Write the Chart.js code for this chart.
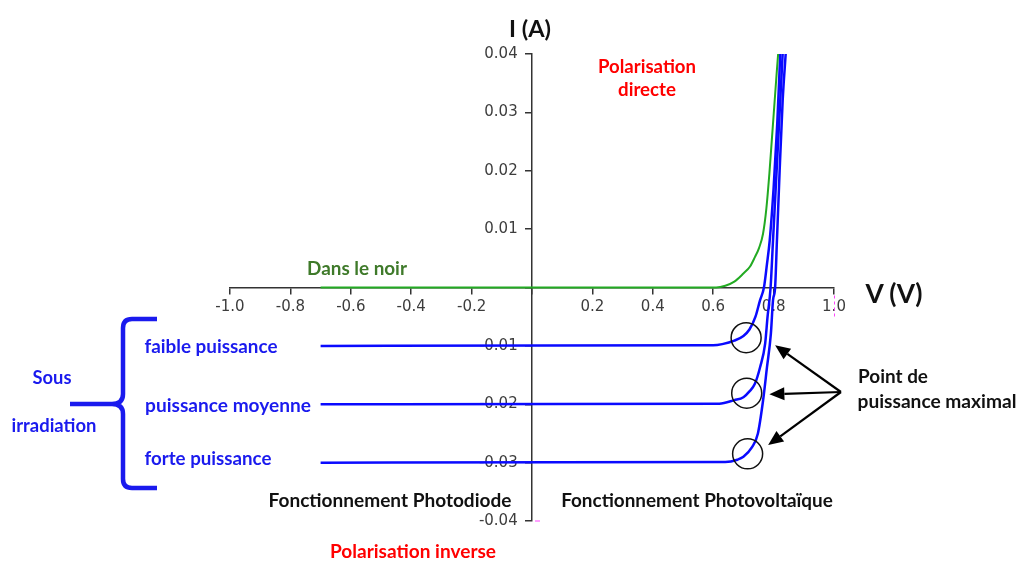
<!DOCTYPE html>
<html lang="fr">
<head>
<meta charset="utf-8">
<title>Caractéristique I(V) d'une photodiode</title>
<script src="https://cdn.jsdelivr.net/npm/chart.js@4.4.1/dist/chart.umd.min.js"></script>
<style>
  html, body { margin: 0; padding: 0; background: #fff; }
  #cadre { position: relative; width: 1019px; height: 561px; overflow: hidden; }
  #cadre canvas { position: absolute; left: 0; top: 0; }
  .lbl {
    position: absolute;
    font-family: Lato, "Open Sans", sans-serif;
    font-weight: 700;
    font-size: 16px;
    line-height: 1;
    white-space: nowrap;
    transform: translate(-50%, -50%);
  }
  .noir { color: #111; }
  .rouge { color: #ff0000; }
  .bleu { color: #1a1aee; }
  .vert { color: #3f7a2a; }
</style>
</head>
<body>
<div id="cadre">
  <canvas id="graphe" width="1019" height="561"></canvas>

  <div class="lbl noir" style="left:530px; top:29px; font-size:20px" data-w="42">I (A)</div>
  <div class="lbl rouge" style="left:647px; top:66px" data-w="98">Polarisation</div>
  <div class="lbl rouge" style="left:647px; top:89px" data-w="58">directe</div>
  <div class="lbl vert" style="left:357px; top:268px" data-w="100">Dans le noir</div>
  <div class="lbl noir" style="left:894px; top:293px; font-size:20px" data-w="57">V (V)</div>

  <div class="lbl bleu" style="left:211px; top:346px" data-w="133">faible puissance</div>
  <div class="lbl bleu" style="left:228px; top:405px" data-w="166">puissance moyenne</div>
  <div class="lbl bleu" style="left:208px; top:458px" data-w="127">forte puissance</div>
  <div class="lbl bleu" style="left:52px; top:377px" data-w="39">Sous</div>
  <div class="lbl bleu" style="left:54px; top:425px" data-w="85">irradiation</div>

  <div class="lbl noir" style="left:893px; top:376px" data-w="70">Point de</div>
  <div class="lbl noir" style="left:937px; top:401px" data-w="159">puissance maximal</div>

  <div class="lbl noir" style="left:390px; top:500px" data-w="243">Fonctionnement Photodiode</div>
  <div class="lbl noir" style="left:697px; top:500px" data-w="272">Fonctionnement Photovoltaïque</div>
  <div class="lbl rouge" style="left:413px; top:551px" data-w="166">Polarisation inverse</div>
</div>

<script>
// Graduations des axes
const ticksV = [-1.0, -0.8, -0.6, -0.4, -0.2, 0, 0.2, 0.4, 0.6, 0.8, 1.0];
const etiquettesV = ['-1.0', '-0.8', '-0.6', '-0.4', '-0.2', '', '0.2', '0.4', '0.6', '0.8', '1.0'];
const ticksI = [-0.04, -0.03, -0.02, -0.01, 0, 0.01, 0.02, 0.03, 0.04];
const etiquettesI = ['-0.04', '-0.03', '-0.02', '-0.01', '', '0.01', '0.02', '0.03', '0.04'];

// Dans le noir (courbe verte)
const noirV = [-0.7, 0.61, 0.64, 0.67, 0.70, 0.722, 0.738, 0.752, 0.765, 0.776, 0.786, 0.794, 0.802, 0.81, 0.815];
const noirI = [0, 0, 0.0003, 0.001, 0.0024, 0.0036, 0.0052, 0.0068, 0.0092, 0.0135, 0.0195, 0.0252, 0.0309, 0.0366, 0.04];

// Sous irradiation : faible puissance
const faibleV = [-0.7, 0.6, 0.63, 0.67, 0.70, 0.72, 0.74, 0.755, 0.768, 0.778, 0.787, 0.80, 0.812, 0.822];
const faibleI = [-0.01, -0.0099, -0.0097, -0.0091, -0.0083, -0.0072, -0.005, -0.0022, 0, 0.004, 0.008, 0.017, 0.028, 0.04];

// puissance moyenne
const moyenneV = [-0.7, 0.62, 0.67, 0.70, 0.72, 0.738, 0.755, 0.772, 0.78, 0.79, 0.798, 0.81, 0.822, 0.83];
const moyenneI = [-0.02, -0.0199, -0.0193, -0.0188, -0.0178, -0.0165, -0.0137, -0.0096, -0.005, 0, 0.008, 0.02, 0.032, 0.04];

// forte puissance
const forteV = [-0.7, 0.64, 0.68, 0.70, 0.728, 0.748, 0.765, 0.778, 0.791, 0.798, 0.805, 0.811, 0.82, 0.83, 0.84];
const forteI = [-0.03, -0.0299, -0.0295, -0.029, -0.0274, -0.025, -0.0194, -0.0137, -0.0079, -0.0022, 0, 0.008, 0.02, 0.032, 0.04];

// Points de puissance maximale (cercles)
const pmaxV = [0.709, 0.711, 0.714];
const pmaxI = [-0.0086, -0.0181, -0.0285];

function points(vs, is) {
    return vs.map((v, k) => ({ x: v, y: is[k] }));
}

// Flèches, accolade et petites marques roses
const decorations = {
    id: 'decorations',
    afterDraw(chart) {
        const { ctx, scales: { x, y } } = chart;
        ctx.save();

        // flèches vers les points de puissance maximale
        const x0 = x.getPixelForValue(1.023), y0 = y.getPixelForValue(-0.0179);
        const cibles = [[0.805, -0.0099], [0.786, -0.0183], [0.782, -0.0270]];
        ctx.strokeStyle = '#000';
        ctx.fillStyle = '#000';
        ctx.lineWidth = 2.2;
        cibles.forEach(([cv, ci]) => {
            const x1 = x.getPixelForValue(cv), y1 = y.getPixelForValue(ci);
            const a = Math.atan2(y1 - y0, x1 - x0);
            const L = 15, W = 6.5;
            const bx = x1 - L * Math.cos(a), by = y1 - L * Math.sin(a);
            ctx.beginPath();
            ctx.moveTo(x0, y0);
            ctx.lineTo(bx, by);
            ctx.stroke();
            ctx.beginPath();
            ctx.moveTo(x1, y1);
            ctx.lineTo(bx + W * Math.sin(a), by - W * Math.cos(a));
            ctx.lineTo(bx - W * Math.sin(a), by + W * Math.cos(a));
            ctx.closePath();
            ctx.fill();
        });

        // accolade bleue
        ctx.strokeStyle = '#1a1aee';
        ctx.lineWidth = 4.5;
        ctx.lineJoin = 'round';
        ctx.beginPath();
        ctx.moveTo(157, 319);
        ctx.lineTo(132, 319);
        ctx.quadraticCurveTo(123, 319, 123, 328);
        ctx.lineTo(123, 394);
        ctx.quadraticCurveTo(123, 404, 112, 404);
        ctx.lineTo(70, 404);
        ctx.moveTo(112, 404);
        ctx.quadraticCurveTo(123, 404, 123, 414);
        ctx.lineTo(123, 479);
        ctx.quadraticCurveTo(123, 488, 132, 488);
        ctx.lineTo(157, 488);
        ctx.stroke();

        // marques roses
        ctx.strokeStyle = '#ff44ff';
        ctx.lineWidth = 1;
        ctx.setLineDash([3, 3]);
        ctx.beginPath();
        ctx.moveTo(x.getPixelForValue(1.0) + 0.5, y.getPixelForValue(0) + 8);
        ctx.lineTo(x.getPixelForValue(1.0) + 0.5, y.getPixelForValue(0) + 32);
        ctx.stroke();
        ctx.setLineDash([]);
        ctx.beginPath();
        ctx.moveTo(x.getPixelForValue(0) + 3, y.getPixelForValue(-0.04));
        ctx.lineTo(x.getPixelForValue(0) + 8, y.getPixelForValue(-0.04));
        ctx.stroke();

        ctx.restore();
    }
};

const courbe = (label, vs, is, couleur, largeur) => ({
    label: label,
    data: points(vs, is),
    showLine: true,
    borderColor: couleur,
    borderWidth: largeur,
    pointRadius: 0,
    cubicInterpolationMode: 'monotone',
    fill: false,
    order: 1,
    clip: false
});

const policeGraduations = { family: 'DejaVu Sans', size: 15 };

const ctx = document.getElementById('graphe').getContext('2d');
new Chart(ctx, {
    type: 'scatter',
    data: {
        datasets: [
            {
                label: 'Point de puissance maximal',
                data: points(pmaxV, pmaxI),
                pointStyle: 'circle',
                pointRadius: 15,
                pointBorderWidth: 1.5,
                pointBorderColor: '#111',
                pointBackgroundColor: 'rgba(0,0,0,0)',
                showLine: false,
                order: 0,
                clip: false
            },
            courbe('Dans le noir', noirV, noirI, '#22aa22', 2),
            courbe('faible puissance', faibleV, faibleI, '#0a0aff', 2.5),
            courbe('puissance moyenne', moyenneV, moyenneI, '#0a0aff', 2.5),
            courbe('forte puissance', forteV, forteI, '#0a0aff', 2.5)
        ]
    },
    options: {
        responsive: false,
        animation: false,
        events: [],
        layout: { padding: { left: 230, right: 185, top: 54, bottom: 40 } },
        plugins: { legend: { display: false }, tooltip: { enabled: false } },
        scales: {
            x: {
                type: 'linear',
                min: -1,
                max: 1,
                position: { y: 0 },
                afterBuildTicks: axe => { axe.ticks = ticksV.map(v => ({ value: v })); },
                border: { display: true, color: '#333', width: 1.5 },
                grid: { drawOnChartArea: false, drawTicks: true, tickLength: 6, color: '#333', lineWidth: 1.5 },
                ticks: {
                    autoSkip: false,
                    maxRotation: 0,
                    padding: 5,
                    color: '#3d3d3d',
                    font: policeGraduations,
                    callback: (v, i) => etiquettesV[i]
                }
            },
            y: {
                type: 'linear',
                min: -0.04,
                max: 0.04,
                position: { x: 0 },
                afterBuildTicks: axe => { axe.ticks = ticksI.map(v => ({ value: v })); },
                border: { display: true, color: '#333', width: 1.5 },
                grid: { drawOnChartArea: false, drawTicks: true, tickLength: 6, color: '#333', lineWidth: 1.5 },
                ticks: {
                    autoSkip: false,
                    padding: 3,
                    color: '#3d3d3d',
                    font: policeGraduations,
                    // les espaces finaux écartent l'étiquette de l'axe central
                    callback: (v, i) => etiquettesI[i] ? etiquettesI[i] + '   ' : ''
                }
            }
        }
    },
    plugins: [decorations]
});

// Ajuste la taille des textes à la largeur
function ajusterTextes() {
    document.querySelectorAll('.lbl').forEach(el => {
        el.style.fontSize = '';
        const base = parseFloat(getComputedStyle(el).fontSize);
        const largeur = el.getBoundingClientRect().width;
        el.style.fontSize = (base * (+el.dataset.w) / largeur) + 'px';
    });
}
ajusterTextes();
</script>
</body>
</html>
